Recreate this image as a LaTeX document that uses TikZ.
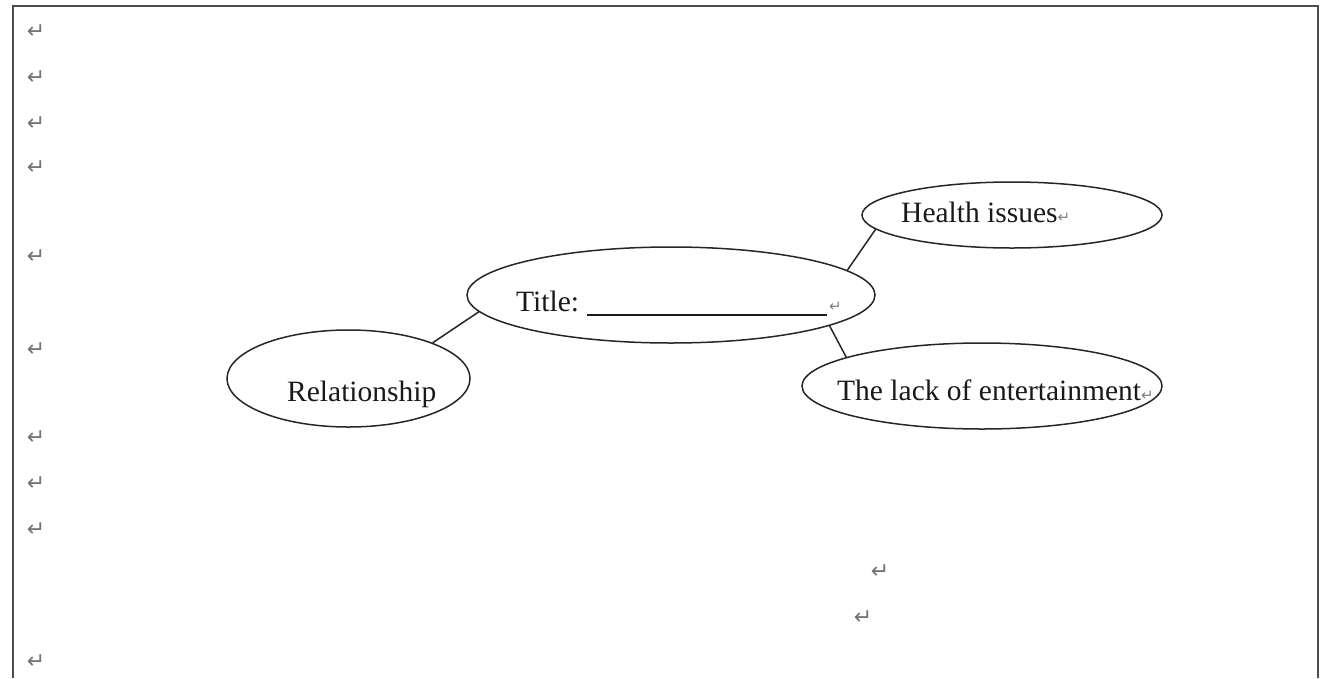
\documentclass[tikz,border=0pt]{standalone}
\usepackage{fontspec}
\setmainfont{Liberation Serif}
\newfontfamily\markfont{DejaVu Sans}
\usetikzlibrary{shapes.geometric}
\newcommand{\retmark}{{\markfont\fontsize{15}{15}\selectfont\textcolor{black!50}{↵}}}
\begin{document}
\begin{tikzpicture}[x=1pt,y=-1pt,
  bubble/.style={draw=black!85, ellipse, line width=1.5pt, inner sep=0pt},
  lbl/.style={anchor=base west, inner sep=0pt, text=black!90, font=\fontsize{29.5}{35}\selectfont},
  pmark/.style={inner sep=0pt, text=black!55, font=\markfont\fontsize{22}{22}\selectfont},
  link/.style={line width=1.5pt, draw=black!85},
  frame/.style={line width=2pt, draw=black!70}]
\useasboundingbox (0,0) rectangle (1322,678);
\draw[frame] (13,678) -- (13,6) -- (1318,6) -- (1318,678);
% bubbles
\node[bubble, minimum width=408pt, minimum height=96pt] (title) at (671,295) {};
\node[bubble, minimum width=300pt, minimum height=66pt] (health) at (1012,215) {};
\node[bubble, minimum width=243pt, minimum height=97pt] (rel) at (348.5,378.5) {};
\node[bubble, minimum width=360pt, minimum height=86pt] (lack) at (982,386) {};
% texts
\node[lbl] (titletext) at (516,311) {Title:\hspace{8pt}\rule[-5pt]{240pt}{1.8pt}\hspace{2pt}\retmark};
\node[lbl] (healthtext) at (901,222) {Health issues\retmark};
\node[lbl] (reltext) at (287,401) {Relationship};
\node[lbl] (lacktext) at (837,400) {The lack of entertainment\retmark};
% connectors
\draw[link] (title.185) -- (rel.23);
\draw[link] (title.8) -- (health.186);
\draw[link] (title.-11) -- (lack.168);
% paragraph marks
\foreach \y [count=\i] in {32,78,124,168,257,350,438,484,530,662}
  \node[pmark] (m\i) at (36,\y) {↵};
\node[pmark] (m11) at (880,572) {↵};
\node[pmark] (m12) at (863,618) {↵};
\end{tikzpicture}
\end{document}
